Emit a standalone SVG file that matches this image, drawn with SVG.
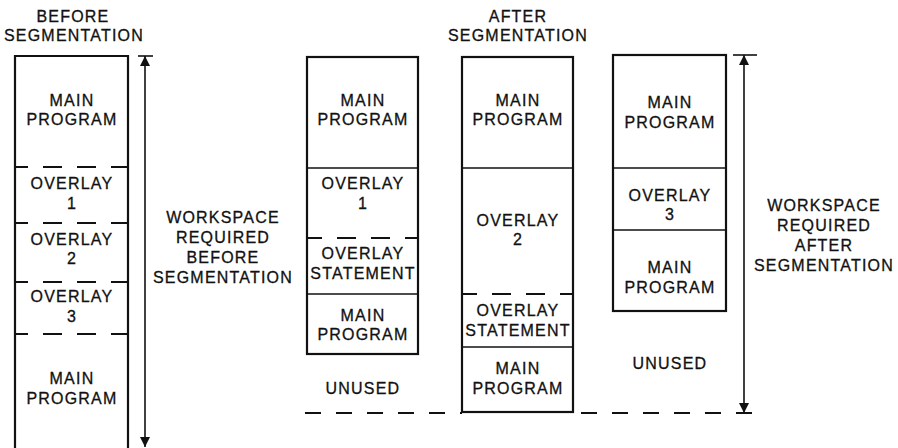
<svg xmlns="http://www.w3.org/2000/svg" width="898" height="448" viewBox="0 0 898 448">
  <style>
    text { font-family: "Liberation Sans", Arial, sans-serif; font-size: 16px; letter-spacing: 1.2px; fill: #111; stroke: #111; stroke-width: 0.3; text-anchor: middle; }
    .box { fill: none; stroke: #111; stroke-width: 2.2; }
    .div { stroke: #111; stroke-width: 1.6; }
    .dash { stroke: #111; stroke-width: 1.8; stroke-dasharray: 19 15; }
    .base { stroke: #111; stroke-width: 1.8; stroke-dasharray: 16 15; }
    .dim { stroke: #111; stroke-width: 1.6; fill: none; }
  </style>
  <defs>
    <marker id="head" viewBox="0 0 10 14" refX="10" refY="7" markerWidth="10" markerHeight="14" markerUnits="userSpaceOnUse" orient="auto-start-reverse">
      <path d="M0,2 L10,7 L0,12 Z" fill="#111"/>
    </marker>
  </defs>

  <!-- column titles -->
  <g id="title-before">
    <text x="73" y="22">BEFORE</text>
    <text x="74" y="41">SEGMENTATION</text>
  </g>
  <g id="title-after">
    <text x="518" y="22">AFTER</text>
    <text x="518" y="41">SEGMENTATION</text>
  </g>

  <!-- memory map before segmentation -->
  <g id="before">
    <path class="box" d="M15,452 V56 H128 V452"/>
    <line class="dash" x1="15" y1="167" x2="128" y2="167" stroke-dashoffset="6"/>
    <line class="dash" x1="15" y1="223" x2="128" y2="223" stroke-dashoffset="6"/>
    <line class="dash" x1="15" y1="282" x2="128" y2="282" stroke-dashoffset="6"/>
    <line class="dash" x1="15" y1="334" x2="128" y2="334" stroke-dashoffset="6"/>
    <text x="72" y="106">MAIN</text>
    <text x="72" y="125">PROGRAM</text>
    <text x="72" y="189">OVERLAY</text>
    <text x="72" y="209">1</text>
    <text x="72" y="245">OVERLAY</text>
    <text x="72" y="264">2</text>
    <text x="72" y="302">OVERLAY</text>
    <text x="72" y="322">3</text>
    <text x="72" y="384">MAIN</text>
    <text x="72" y="404">PROGRAM</text>
  </g>

  <!-- memory map after segmentation: overlay 1 loaded -->
  <g id="after-overlay1">
    <rect class="box" x="307" y="57" width="111" height="297"/>
    <line class="div" x1="307" y1="168" x2="418" y2="168"/>
    <line class="dash" x1="307" y1="238" x2="418" y2="238" stroke-dashoffset="4"/>
    <line class="div" x1="307" y1="294" x2="418" y2="294"/>
    <text x="363" y="106">MAIN</text>
    <text x="363" y="125">PROGRAM</text>
    <text x="363" y="189">OVERLAY</text>
    <text x="363" y="209">1</text>
    <text x="363" y="259">OVERLAY</text>
    <text x="363" y="279">STATEMENT</text>
    <text x="363" y="321">MAIN</text>
    <text x="363" y="340">PROGRAM</text>
    <text x="363" y="394">UNUSED</text>
  </g>

  <!-- memory map after segmentation: overlay 2 loaded -->
  <g id="after-overlay2">
    <rect class="box" x="462" y="57" width="111" height="355"/>
    <line class="div" x1="462" y1="168" x2="573" y2="168"/>
    <line class="dash" x1="462" y1="294" x2="573" y2="294" stroke-dashoffset="4"/>
    <line class="div" x1="462" y1="347" x2="573" y2="347"/>
    <text x="518" y="106">MAIN</text>
    <text x="518" y="125">PROGRAM</text>
    <text x="518" y="226">OVERLAY</text>
    <text x="518" y="245">2</text>
    <text x="518" y="316">OVERLAY</text>
    <text x="518" y="336">STATEMENT</text>
    <text x="518" y="374">MAIN</text>
    <text x="518" y="394">PROGRAM</text>
  </g>

  <!-- memory map after segmentation: overlay 3 loaded -->
  <g id="after-overlay3">
    <rect class="box" x="613" y="55" width="113" height="256"/>
    <line class="div" x1="613" y1="168" x2="726" y2="168"/>
    <line class="div" x1="613" y1="230" x2="726" y2="230"/>
    <text x="670" y="108">MAIN</text>
    <text x="670" y="128">PROGRAM</text>
    <text x="670" y="201">OVERLAY</text>
    <text x="670" y="220">3</text>
    <text x="670" y="273">MAIN</text>
    <text x="670" y="293">PROGRAM</text>
    <text x="670" y="369">UNUSED</text>
  </g>

  <!-- workspace labels -->
  <g id="label-before">
    <text x="223" y="223">WORKSPACE</text>
    <text x="223" y="243">REQUIRED</text>
    <text x="223" y="263">BEFORE</text>
    <text x="223" y="283">SEGMENTATION</text>
  </g>
  <g id="label-after">
    <text x="824" y="211">WORKSPACE</text>
    <text x="824" y="231">REQUIRED</text>
    <text x="824" y="251">AFTER</text>
    <text x="824" y="271">SEGMENTATION</text>
  </g>

  <!-- dimension lines and the common base line -->
  <g id="connectors">
    <line class="dim" x1="138" y1="56" x2="153" y2="56"/>
    <line class="dim" x1="145" y1="56" x2="145" y2="447" marker-start="url(#head)" marker-end="url(#head)"/>
    <line class="dim" x1="733" y1="55" x2="757" y2="55"/>
    <line class="dim" x1="744" y1="55" x2="744" y2="413" marker-start="url(#head)" marker-end="url(#head)"/>
    <line class="base" x1="305" y1="413" x2="462" y2="413"/>
    <line class="base" x1="581" y1="413" x2="757" y2="413"/>
  </g>
</svg>
